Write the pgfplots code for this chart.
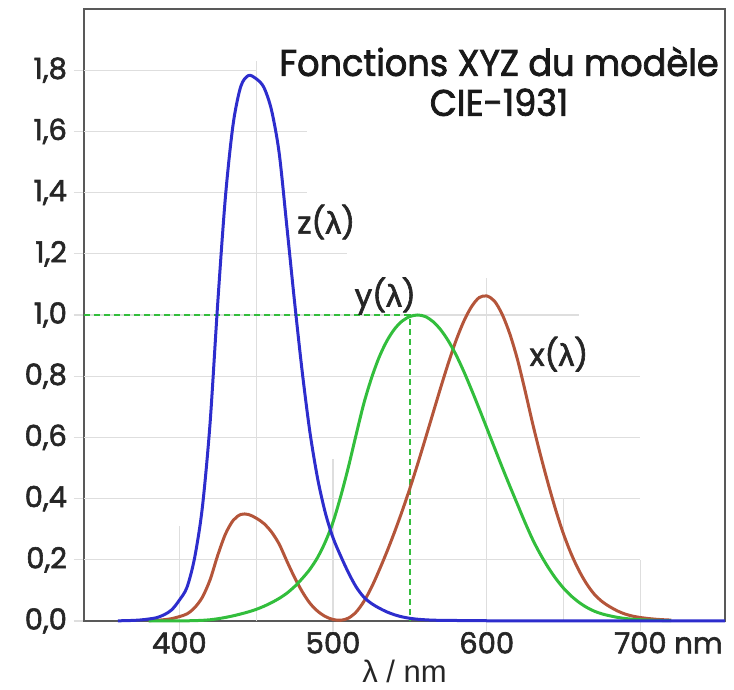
\documentclass[border=0pt]{standalone}
\usepackage{pgfplots}
\pgfplotsset{compat=1.18}
\usepackage{fontspec}
\setmainfont{Poppins}[FakeBold=2]
\newfontfamily\lamfont{Liberation Sans}
\newfontfamily\lamboldfont{Liberation Sans}[FakeBold=2.5]
\newfontfamily\titlefont{Poppins}[FakeStretch=0.95, FakeBold=2]
\newcommand{\lam}{{\lamboldfont λ}}
\definecolor{cblue}{RGB}{45,45,205}
\definecolor{cred}{RGB}{180,85,58}
\definecolor{cgreen}{RGB}{50,190,60}
\definecolor{cgrid}{RGB}{222,222,222}
\begin{document}
\begin{tikzpicture}
\begin{axis}[
  scale only axis, width=320.5pt, height=306pt,
  xmin=338, xmax=755, ymin=0, ymax=2.0,
  axis line style={draw=black!65, line width=0.8pt},
  xtick={400,500,600,700},
  xticklabels={400,500,600,700\rlap{ nm}},
  ytick={0,0.2,0.4,0.6,0.8,1.0,1.2,1.4,1.6,1.8},
  yticklabels={{0,0},{0,2},{0,4},{0,6},{0,8},{1,0},{1,2},{1,4},{1,6},{1,8}},
  tick style={draw=cgrid, line width=0.6pt},
  major tick length=5pt, tick align=outside, tick pos=left,
  ticklabel style={font=\fontsize{14.5}{16}\selectfont, text=black!85},
  xticklabel style={yshift=3pt},
  xlabel={{\lamfont λ} / nm},
  xlabel style={font=\lamfont\fontsize{15.5}{17}\selectfont, text=black!85, yshift=3.5pt},
  clip=false,
]
% partial light grid
\addplot[cgrid, line width=0.6pt] coordinates {(338,1.8) (450,1.8)};
\addplot[cgrid, line width=0.6pt] coordinates {(338,1.6) (483,1.6)};
\addplot[cgrid, line width=0.6pt] coordinates {(338,1.4) (483,1.4)};
\addplot[cgrid, line width=0.6pt] coordinates {(338,1.2) (509,1.2)};
\addplot[cgrid, line width=0.6pt] coordinates {(338,1.0) (660,1.0)};
\addplot[cgrid, line width=0.6pt] coordinates {(338,0.8) (700,0.8)};
\addplot[cgrid, line width=0.6pt] coordinates {(338,0.6) (700,0.6)};
\addplot[cgrid, line width=0.6pt] coordinates {(338,0.4) (700,0.4)};
\addplot[cgrid, line width=0.6pt] coordinates {(338,0.2) (700,0.2)};
\addplot[cgrid, line width=0.6pt] coordinates {(400,0) (400,0.31)};
\addplot[cgrid, line width=0.6pt] coordinates {(450,0) (450,1.83)};
\addplot[cgrid, line width=0.6pt] coordinates {(500,0) (500,0.53)};
\addplot[cgrid, line width=0.6pt] coordinates {(600,0) (600,1.12)};
\addplot[cgrid, line width=0.6pt] coordinates {(650,0) (650,0.4)};
\addplot[cgrid, line width=0.6pt] coordinates {(700,0) (700,0.2)};
% dashed guide
\addplot[cgreen, line width=1pt, dash pattern=on 3pt off 2pt] coordinates {(338,1.0) (550,1.0) (550,0)};
% x(lambda)
\addplot[cred, line width=1.5pt, smooth] coordinates {
(380,0.001368) (385,0.002236) (390,0.004243) (395,0.00765) (400,0.01431) (405,0.02319)
(410,0.04351) (415,0.07763) (420,0.13438) (425,0.21477) (430,0.2839) (435,0.3285)
(440,0.34828) (445,0.34806) (450,0.3362) (455,0.3187) (460,0.2908) (465,0.2511)
(470,0.19536) (475,0.1421) (480,0.09564) (485,0.05795) (490,0.03201) (495,0.0147)
(500,0.0049) (505,0.0024) (510,0.0093) (515,0.0291) (520,0.06327) (525,0.1096)
(530,0.1655) (535,0.22575) (540,0.2904) (545,0.3597) (550,0.43345) (555,0.51205)
(560,0.5945) (565,0.6784) (570,0.7621) (575,0.8425) (580,0.9163) (585,0.9786)
(590,1.0263) (595,1.0567) (600,1.0622) (605,1.0456) (610,1.0026) (615,0.9384)
(620,0.85445) (625,0.7514) (630,0.6424) (635,0.5419) (640,0.4479) (645,0.3608)
(650,0.2835) (655,0.2187) (660,0.1649) (665,0.1212) (670,0.0874) (675,0.0636)
(680,0.04677) (685,0.0329) (690,0.0227) (695,0.01584) (700,0.011359) (705,0.008111)
(710,0.00579) (715,0.004109) (720,0.002899)};
% y(lambda)
\addplot[cgreen, line width=1.5pt, smooth] coordinates {
(380,0.000039) (390,0.00012) (400,0.000396) (405,0.00064) (410,0.00121) (415,0.00218)
(420,0.004) (425,0.0073) (430,0.0116) (435,0.01684) (440,0.023) (445,0.0298)
(450,0.038) (455,0.048) (460,0.06) (465,0.0739) (470,0.09098) (475,0.1126)
(480,0.13902) (485,0.1693) (490,0.20802) (495,0.2586) (500,0.323) (505,0.4073)
(510,0.503) (515,0.6082) (520,0.71) (525,0.7932) (530,0.862) (535,0.91485)
(540,0.954) (545,0.9803) (550,0.99495) (555,1.0) (560,0.995) (565,0.9786)
(570,0.952) (575,0.9154) (580,0.87) (585,0.8163) (590,0.757) (595,0.6949)
(600,0.631) (605,0.5668) (610,0.503) (615,0.4412) (620,0.381) (625,0.321)
(630,0.265) (635,0.217) (640,0.175) (645,0.1382) (650,0.107) (655,0.0816)
(660,0.061) (665,0.04458) (670,0.032) (675,0.0232) (680,0.017) (685,0.01192)
(690,0.00821) (695,0.005723) (700,0.004102) (710,0.002091) (720,0.001047)};
% z(lambda)
\addplot[cblue, line width=1.5pt, smooth] coordinates {
(360,0.000606) (365,0.001086) (370,0.001946) (375,0.003486) (380,0.00645) (385,0.01055)
(390,0.02005) (395,0.03621) (400,0.06785) (405,0.1102) (410,0.2074) (415,0.3713)
(420,0.6456) (425,1.03905) (430,1.3856) (435,1.62296) (440,1.74706) (445,1.7826)
(450,1.77211) (455,1.7441) (460,1.6692) (465,1.5281) (470,1.28764) (475,1.0419)
(480,0.81295) (485,0.6162) (490,0.46518) (495,0.3533) (500,0.272) (505,0.2123)
(510,0.1582) (515,0.1117) (520,0.07825) (525,0.05725) (530,0.04216) (535,0.02984)
(540,0.0203) (545,0.0134) (550,0.00875) (555,0.00575) (560,0.0039) (565,0.00275)
(570,0.0021) (575,0.0018) (580,0.00165) (590,0.0011) (600,0.0008) (620,0.00019)
(650,0) (700,0) (755,0)};
% labels
\node[font=\fontsize{15.5}{17}\selectfont, text=black!85] at (axis cs:495.6,1.304) {z(\lam)};
\node[font=\fontsize{15.5}{17}\selectfont, text=black!85] at (axis cs:534,1.062) {y(\lam)};
\node[font=\fontsize{15.5}{17}\selectfont, text=black!85] at (axis cs:647,0.872) {x(\lam)};
\node[align=center, font=\titlefont\fontsize{18.5}{20}\selectfont, text=black!90] at (axis cs:608,1.763) {Fonctions XYZ du modèle\\CIE-1931};
\end{axis}
\pgfresetboundingbox
\path[use as bounding box] ([xshift=-42pt,yshift=-34.5pt]current axis.south west) rectangle ([xshift=4.5pt,yshift=4.5pt]current axis.north east);
\end{tikzpicture}
\end{document}
